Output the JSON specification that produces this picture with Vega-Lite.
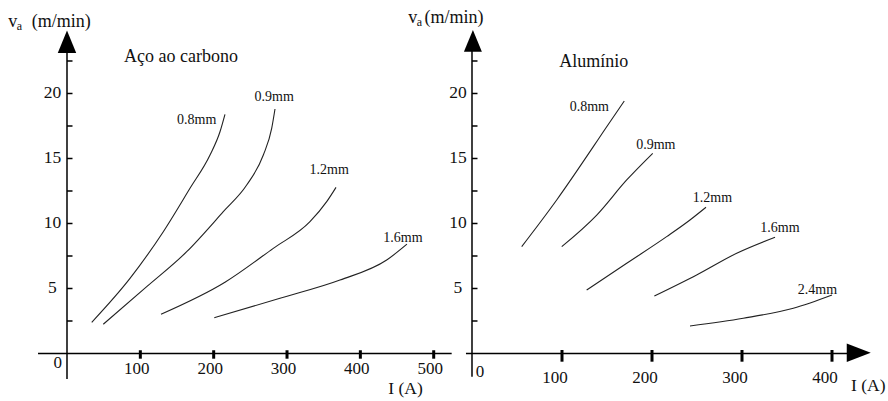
{
  "$schema": "https://vega.github.io/schema/vega-lite/v6.json",
  "width": 888,
  "height": 401,
  "autosize": {"type": "none"},
  "padding": 0,
  "background": "white",
  "config": {"view": {"stroke": null}, "axis": {"disable": true}, "font": "Liberation Serif", "text": {"font": "Liberation Serif"}},
  "datasets": {
    "leftCurves": [
      {"d": "0.8mm", "o": 1, "I": 33.7, "v": 2.40},
      {"d": "0.8mm", "o": 2, "I": 85.9, "v": 5.78},
      {"d": "0.8mm", "o": 3, "I": 131.3, "v": 9.37},
      {"d": "0.8mm", "o": 4, "I": 167.7, "v": 12.71},
      {"d": "0.8mm", "o": 5, "I": 195.0, "v": 15.27},
      {"d": "0.8mm", "o": 6, "I": 208.6, "v": 17.06},
      {"d": "0.8mm", "o": 7, "I": 215.4, "v": 18.40},
      {"d": "0.9mm", "o": 1, "I": 49.5, "v": 2.25},
      {"d": "0.9mm", "o": 2, "I": 108.7, "v": 5.14},
      {"d": "0.9mm", "o": 3, "I": 163.2, "v": 7.83},
      {"d": "0.9mm", "o": 4, "I": 213.1, "v": 10.91},
      {"d": "0.9mm", "o": 5, "I": 245.0, "v": 12.96},
      {"d": "0.9mm", "o": 6, "I": 267.7, "v": 15.27},
      {"d": "0.9mm", "o": 7, "I": 279.1, "v": 17.32},
      {"d": "0.9mm", "o": 8, "I": 283.6, "v": 18.81},
      {"d": "1.2mm", "o": 1, "I": 128.2, "v": 3.02},
      {"d": "1.2mm", "o": 2, "I": 215.4, "v": 5.48},
      {"d": "1.2mm", "o": 3, "I": 281.3, "v": 8.09},
      {"d": "1.2mm", "o": 4, "I": 331.3, "v": 10.14},
      {"d": "1.2mm", "o": 5, "I": 354.1, "v": 11.68},
      {"d": "1.2mm", "o": 6, "I": 366.8, "v": 12.78},
      {"d": "1.6mm", "o": 1, "I": 200.8, "v": 2.75},
      {"d": "1.6mm", "o": 2, "I": 290.4, "v": 4.25},
      {"d": "1.6mm", "o": 3, "I": 372.2, "v": 5.65},
      {"d": "1.6mm", "o": 4, "I": 435.9, "v": 7.19},
      {"d": "1.6mm", "o": 5, "I": 463.5, "v": 8.41}
    ],
    "rightCurves": [
      {"d": "0.8mm", "o": 1, "I": 55.2, "v": 8.22},
      {"d": "0.8mm", "o": 2, "I": 94.1, "v": 11.81},
      {"d": "0.8mm", "o": 3, "I": 134.8, "v": 15.91},
      {"d": "0.8mm", "o": 4, "I": 145.9, "v": 17.06},
      {"d": "0.8mm", "o": 5, "I": 169.2, "v": 19.42},
      {"d": "0.9mm", "o": 1, "I": 99.7, "v": 8.22},
      {"d": "0.9mm", "o": 2, "I": 138.6, "v": 10.65},
      {"d": "0.9mm", "o": 3, "I": 171.9, "v": 13.35},
      {"d": "0.9mm", "o": 4, "I": 200.8, "v": 15.40},
      {"d": "1.2mm", "o": 1, "I": 127.4, "v": 4.88},
      {"d": "1.2mm", "o": 2, "I": 171.9, "v": 6.94},
      {"d": "1.2mm", "o": 3, "I": 216.3, "v": 8.99},
      {"d": "1.2mm", "o": 4, "I": 242.2, "v": 10.27},
      {"d": "1.2mm", "o": 5, "I": 260.0, "v": 11.25},
      {"d": "1.6mm", "o": 1, "I": 202.6, "v": 4.42},
      {"d": "1.6mm", "o": 2, "I": 249.6, "v": 6.04},
      {"d": "1.6mm", "o": 3, "I": 294.1, "v": 7.71},
      {"d": "1.6mm", "o": 4, "I": 336.7, "v": 8.94},
      {"d": "2.4mm", "o": 1, "I": 242.2, "v": 2.12},
      {"d": "2.4mm", "o": 2, "I": 301.4, "v": 2.71},
      {"d": "2.4mm", "o": 3, "I": 357.0, "v": 3.48},
      {"d": "2.4mm", "o": 4, "I": 400.0, "v": 4.50}
    ],
    "leftLabels": [
      {"t": "0.8mm", "I": 176.8, "v": 17.96},
      {"t": "0.9mm", "I": 282.5, "v": 19.73},
      {"t": "1.2mm", "I": 357.5, "v": 14.08},
      {"t": "1.6mm", "I": 458.1, "v": 8.92}
    ],
    "rightLabels": [
      {"t": "0.8mm", "I": 130.4, "v": 18.95},
      {"t": "0.9mm", "I": 204.2, "v": 16.04},
      {"t": "1.2mm", "I": 267.2, "v": 11.96},
      {"t": "1.6mm", "I": 342.2, "v": 9.65},
      {"t": "2.4mm", "I": 383.9, "v": 4.85}
    ],
    "yTicks": [
      {"v": 2.5}, {"v": 5}, {"v": 7.5}, {"v": 10}, {"v": 12.5},
      {"v": 15}, {"v": 17.5}, {"v": 20}, {"v": 22.5}
    ],
    "yLabels": [
      {"v": 5, "t": "5"}, {"v": 10, "t": "10"}, {"v": 15, "t": "15"}, {"v": 20, "t": "20"}
    ],
    "leftXTicks": [
      {"I": 100, "t": "100"}, {"I": 200, "t": "200"}, {"I": 300, "t": "300"},
      {"I": 400, "t": "400"}, {"I": 500, "t": "500"}
    ],
    "rightXTicks": [
      {"I": 100, "t": "100"}, {"I": 200, "t": "200"}, {"I": 300, "t": "300"}, {"I": 400, "t": "400"}
    ],
    "one": [{}]
  },
  "resolve": {"scale": {"x": "independent"}},
  "layer": [
    {
      "layer": [
        {
          "data": {"name": "one"},
          "mark": {"type": "rule", "color": "black", "strokeWidth": 1.5},
          "encoding": {
            "x": {"datum": -39.5, "type": "quantitative", "scale": {"domain": [-91.35, 1119.43], "nice": false, "zero": false}},
            "x2": {"datum": 524.5},
            "y": {"datum": 0, "type": "quantitative", "scale": {"domain": [-3.654, 27.192], "nice": false, "zero": false}}
          }
        },
        {
          "data": {"name": "one"},
          "mark": {"type": "rule", "color": "black", "strokeWidth": 1.5},
          "encoding": {
            "x": {"datum": 0, "type": "quantitative", "scale": {"domain": [-91.35, 1119.43], "nice": false, "zero": false}},
            "y": {"datum": -1.96, "type": "quantitative", "scale": {"domain": [-3.654, 27.192], "nice": false, "zero": false}},
            "y2": {"datum": 23.3}
          }
        },
        {
          "data": {"name": "one"},
          "mark": {"type": "point", "shape": "M0,-1L-0.82,1L0.82,1Z", "filled": true, "size": 506, "color": "black", "opacity": 1, "strokeWidth": 0},
          "encoding": {
            "x": {"datum": 0, "type": "quantitative", "scale": {"domain": [-91.35, 1119.43], "nice": false, "zero": false}},
            "y": {"datum": 23.98, "type": "quantitative", "scale": {"domain": [-3.654, 27.192], "nice": false, "zero": false}}
          }
        },
        {
          "data": {"name": "yTicks"},
          "mark": {"type": "rule", "color": "black", "strokeWidth": 1.5},
          "encoding": {
            "x": {"datum": 0, "type": "quantitative", "scale": {"domain": [-91.35, 1119.43], "nice": false, "zero": false}},
            "x2": {"datum": 7.5},
            "y": {"field": "v", "type": "quantitative", "scale": {"domain": [-3.654, 27.192], "nice": false, "zero": false}}
          }
        },
        {
          "data": {"name": "leftXTicks"},
          "mark": {"type": "rule", "color": "black", "strokeWidth": 3},
          "encoding": {
            "x": {"field": "I", "type": "quantitative", "scale": {"domain": [-91.35, 1119.43], "nice": false, "zero": false}},
            "y": {"datum": 0.25, "type": "quantitative", "scale": {"domain": [-3.654, 27.192], "nice": false, "zero": false}},
            "y2": {"datum": -0.4}
          }
        },
        {
          "data": {"name": "leftXTicks"},
          "mark": {"type": "text", "font": "Liberation Serif", "fontSize": 17, "align": "center", "baseline": "middle", "dx": -3.5, "color": "#111"},
          "encoding": {
            "x": {"field": "I", "type": "quantitative", "scale": {"domain": [-91.35, 1119.43], "nice": false, "zero": false}},
            "y": {"datum": -1.19, "type": "quantitative", "scale": {"domain": [-3.654, 27.192], "nice": false, "zero": false}},
            "text": {"field": "t"}
          }
        },
        {
          "data": {"name": "yLabels"},
          "mark": {"type": "text", "font": "Liberation Serif", "fontSize": 17.5, "align": "center", "baseline": "middle", "color": "#111"},
          "encoding": {
            "x": {"datum": -19.8, "type": "quantitative", "scale": {"domain": [-91.35, 1119.43], "nice": false, "zero": false}},
            "y": {"field": "v", "type": "quantitative", "scale": {"domain": [-3.654, 27.192], "nice": false, "zero": false}},
            "text": {"field": "t"}
          }
        },
        {
          "data": {"values": [{"I": -12.7, "v": -0.73, "t": "0"}]},
          "mark": {"type": "text", "font": "Liberation Serif", "fontSize": 17, "align": "center", "baseline": "middle", "color": "#111"},
          "encoding": {
            "x": {"field": "I", "type": "quantitative", "scale": {"domain": [-91.35, 1119.43], "nice": false, "zero": false}},
            "y": {"field": "v", "type": "quantitative", "scale": {"domain": [-3.654, 27.192], "nice": false, "zero": false}},
            "text": {"field": "t"}
          }
        },
        {
          "data": {"name": "leftCurves"},
          "mark": {"type": "line", "color": "#222", "strokeWidth": 1.1, "interpolate": "monotone"},
          "encoding": {
            "x": {"field": "I", "type": "quantitative", "scale": {"domain": [-91.35, 1119.43], "nice": false, "zero": false}},
            "y": {"field": "v", "type": "quantitative", "scale": {"domain": [-3.654, 27.192], "nice": false, "zero": false}},
            "detail": {"field": "d"},
            "order": {"field": "o", "type": "quantitative"}
          }
        },
        {
          "data": {"name": "leftLabels"},
          "mark": {"type": "text", "font": "Liberation Serif", "fontSize": 14, "align": "center", "baseline": "middle", "color": "#111"},
          "encoding": {
            "x": {"field": "I", "type": "quantitative", "scale": {"domain": [-91.35, 1119.43], "nice": false, "zero": false}},
            "y": {"field": "v", "type": "quantitative", "scale": {"domain": [-3.654, 27.192], "nice": false, "zero": false}},
            "text": {"field": "t"}
          }
        },
        {
          "data": {"values": [{"I": 155.4, "v": 22.42, "t": "Aço ao carbono"}]},
          "mark": {"type": "text", "font": "Liberation Serif", "fontSize": 18, "align": "center", "baseline": "alphabetic", "color": "#111"},
          "encoding": {
            "x": {"field": "I", "type": "quantitative", "scale": {"domain": [-91.35, 1119.43], "nice": false, "zero": false}},
            "y": {"field": "v", "type": "quantitative", "scale": {"domain": [-3.654, 27.192], "nice": false, "zero": false}},
            "text": {"field": "t"}
          }
        },
        {
          "data": {"values": [{"I": 461.5, "v": -3.12, "t": "I (A)"}]},
          "mark": {"type": "text", "font": "Liberation Serif", "fontSize": 17.5, "align": "center", "baseline": "alphabetic", "color": "#111"},
          "encoding": {
            "x": {"field": "I", "type": "quantitative", "scale": {"domain": [-91.35, 1119.43], "nice": false, "zero": false}},
            "y": {"field": "v", "type": "quantitative", "scale": {"domain": [-3.654, 27.192], "nice": false, "zero": false}},
            "text": {"field": "t"}
          }
        },
        {
          "data": {"values": [{"I": -80.0, "v": 25.15, "t": "v"}, {"I": -48.1, "v": 25.15, "t": "(m/min)"}]},
          "mark": {"type": "text", "font": "Liberation Serif", "fontSize": 18, "align": "left", "baseline": "alphabetic", "color": "#111"},
          "encoding": {
            "x": {"field": "I", "type": "quantitative", "scale": {"domain": [-91.35, 1119.43], "nice": false, "zero": false}},
            "y": {"field": "v", "type": "quantitative", "scale": {"domain": [-3.654, 27.192], "nice": false, "zero": false}},
            "text": {"field": "t"}
          }
        },
        {
          "data": {"values": [{"I": -68.6, "v": 24.88, "t": "a"}]},
          "mark": {"type": "text", "font": "Liberation Serif", "fontSize": 12, "align": "left", "baseline": "alphabetic", "color": "#111"},
          "encoding": {
            "x": {"field": "I", "type": "quantitative", "scale": {"domain": [-91.35, 1119.43], "nice": false, "zero": false}},
            "y": {"field": "v", "type": "quantitative", "scale": {"domain": [-3.654, 27.192], "nice": false, "zero": false}},
            "text": {"field": "t"}
          }
        }
      ]
    },
    {
      "layer": [
        {
          "data": {"name": "one"},
          "mark": {"type": "rule", "color": "black", "strokeWidth": 1.5},
          "encoding": {
            "x": {"datum": -6.7, "type": "quantitative", "scale": {"domain": [-524.44, 462.22], "nice": false, "zero": false}},
            "x2": {"datum": 418},
            "y": {"datum": 0, "type": "quantitative", "scale": {"domain": [-3.654, 27.192], "nice": false, "zero": false}}
          }
        },
        {
          "data": {"name": "one"},
          "mark": {"type": "rule", "color": "black", "strokeWidth": 1.5},
          "encoding": {
            "x": {"datum": 0, "type": "quantitative", "scale": {"domain": [-524.44, 462.22], "nice": false, "zero": false}},
            "y": {"datum": -1.78, "type": "quantitative", "scale": {"domain": [-3.654, 27.192], "nice": false, "zero": false}},
            "y2": {"datum": 23.3}
          }
        },
        {
          "data": {"name": "one"},
          "mark": {"type": "point", "shape": "M0,-1L-0.82,1L0.82,1Z", "filled": true, "size": 480, "color": "black", "opacity": 1, "strokeWidth": 0},
          "encoding": {
            "x": {"datum": 1, "type": "quantitative", "scale": {"domain": [-524.44, 462.22], "nice": false, "zero": false}},
            "y": {"datum": 24.05, "type": "quantitative", "scale": {"domain": [-3.654, 27.192], "nice": false, "zero": false}}
          }
        },
        {
          "data": {"name": "one"},
          "mark": {"type": "point", "shape": "M1,0L-1,-0.77L-1,0.77Z", "filled": true, "size": 576, "color": "black", "opacity": 1, "strokeWidth": 0},
          "encoding": {
            "x": {"datum": 429.7, "type": "quantitative", "scale": {"domain": [-524.44, 462.22], "nice": false, "zero": false}},
            "y": {"datum": 0.05, "type": "quantitative", "scale": {"domain": [-3.654, 27.192], "nice": false, "zero": false}}
          }
        },
        {
          "data": {"name": "yTicks"},
          "mark": {"type": "rule", "color": "black", "strokeWidth": 1.5},
          "encoding": {
            "x": {"datum": 0, "type": "quantitative", "scale": {"domain": [-524.44, 462.22], "nice": false, "zero": false}},
            "x2": {"datum": 6.1},
            "y": {"field": "v", "type": "quantitative", "scale": {"domain": [-3.654, 27.192], "nice": false, "zero": false}}
          }
        },
        {
          "data": {"name": "rightXTicks"},
          "mark": {"type": "rule", "color": "black", "strokeWidth": 3},
          "encoding": {
            "x": {"field": "I", "type": "quantitative", "scale": {"domain": [-524.44, 462.22], "nice": false, "zero": false}},
            "y": {"datum": 0.27, "type": "quantitative", "scale": {"domain": [-3.654, 27.192], "nice": false, "zero": false}},
            "y2": {"datum": -0.63}
          }
        },
        {
          "data": {"name": "rightXTicks"},
          "mark": {"type": "text", "font": "Liberation Serif", "fontSize": 17, "align": "center", "baseline": "middle", "dx": -7, "color": "#111"},
          "encoding": {
            "x": {"field": "I", "type": "quantitative", "scale": {"domain": [-524.44, 462.22], "nice": false, "zero": false}},
            "y": {"datum": -1.88, "type": "quantitative", "scale": {"domain": [-3.654, 27.192], "nice": false, "zero": false}},
            "text": {"field": "t"}
          }
        },
        {
          "data": {"name": "yLabels"},
          "mark": {"type": "text", "font": "Liberation Serif", "fontSize": 17.5, "align": "center", "baseline": "middle", "color": "#111"},
          "encoding": {
            "x": {"datum": -15.6, "type": "quantitative", "scale": {"domain": [-524.44, 462.22], "nice": false, "zero": false}},
            "y": {"field": "v", "type": "quantitative", "scale": {"domain": [-3.654, 27.192], "nice": false, "zero": false}},
            "text": {"field": "t"}
          }
        },
        {
          "data": {"values": [{"I": 8.9, "v": -1.45, "t": "0"}]},
          "mark": {"type": "text", "font": "Liberation Serif", "fontSize": 17, "align": "center", "baseline": "middle", "color": "#111"},
          "encoding": {
            "x": {"field": "I", "type": "quantitative", "scale": {"domain": [-524.44, 462.22], "nice": false, "zero": false}},
            "y": {"field": "v", "type": "quantitative", "scale": {"domain": [-3.654, 27.192], "nice": false, "zero": false}},
            "text": {"field": "t"}
          }
        },
        {
          "data": {"name": "rightCurves"},
          "mark": {"type": "line", "color": "#222", "strokeWidth": 1.1, "interpolate": "monotone"},
          "encoding": {
            "x": {"field": "I", "type": "quantitative", "scale": {"domain": [-524.44, 462.22], "nice": false, "zero": false}},
            "y": {"field": "v", "type": "quantitative", "scale": {"domain": [-3.654, 27.192], "nice": false, "zero": false}},
            "detail": {"field": "d"},
            "order": {"field": "o", "type": "quantitative"}
          }
        },
        {
          "data": {"name": "rightLabels"},
          "mark": {"type": "text", "font": "Liberation Serif", "fontSize": 14, "align": "center", "baseline": "middle", "color": "#111"},
          "encoding": {
            "x": {"field": "I", "type": "quantitative", "scale": {"domain": [-524.44, 462.22], "nice": false, "zero": false}},
            "y": {"field": "v", "type": "quantitative", "scale": {"domain": [-3.654, 27.192], "nice": false, "zero": false}},
            "text": {"field": "t"}
          }
        },
        {
          "data": {"values": [{"I": 135.2, "v": 22.0, "t": "Alumínio"}]},
          "mark": {"type": "text", "font": "Liberation Serif", "fontSize": 18, "align": "center", "baseline": "alphabetic", "color": "#111"},
          "encoding": {
            "x": {"field": "I", "type": "quantitative", "scale": {"domain": [-524.44, 462.22], "nice": false, "zero": false}},
            "y": {"field": "v", "type": "quantitative", "scale": {"domain": [-3.654, 27.192], "nice": false, "zero": false}},
            "text": {"field": "t"}
          }
        },
        {
          "data": {"values": [{"I": 440.3, "v": -2.88, "t": "I (A)"}]},
          "mark": {"type": "text", "font": "Liberation Serif", "fontSize": 17.5, "align": "center", "baseline": "alphabetic", "color": "#111"},
          "encoding": {
            "x": {"field": "I", "type": "quantitative", "scale": {"domain": [-524.44, 462.22], "nice": false, "zero": false}},
            "y": {"field": "v", "type": "quantitative", "scale": {"domain": [-3.654, 27.192], "nice": false, "zero": false}},
            "text": {"field": "t"}
          }
        },
        {
          "data": {"values": [{"I": -70.8, "v": 25.46, "t": "v"}, {"I": -52.8, "v": 25.46, "t": "(m/min)"}]},
          "mark": {"type": "text", "font": "Liberation Serif", "fontSize": 18, "align": "left", "baseline": "alphabetic", "color": "#111"},
          "encoding": {
            "x": {"field": "I", "type": "quantitative", "scale": {"domain": [-524.44, 462.22], "nice": false, "zero": false}},
            "y": {"field": "v", "type": "quantitative", "scale": {"domain": [-3.654, 27.192], "nice": false, "zero": false}},
            "text": {"field": "t"}
          }
        },
        {
          "data": {"values": [{"I": -61.4, "v": 25.19, "t": "a"}]},
          "mark": {"type": "text", "font": "Liberation Serif", "fontSize": 12, "align": "left", "baseline": "alphabetic", "color": "#111"},
          "encoding": {
            "x": {"field": "I", "type": "quantitative", "scale": {"domain": [-524.44, 462.22], "nice": false, "zero": false}},
            "y": {"field": "v", "type": "quantitative", "scale": {"domain": [-3.654, 27.192], "nice": false, "zero": false}},
            "text": {"field": "t"}
          }
        }
      ]
    }
  ]
}
